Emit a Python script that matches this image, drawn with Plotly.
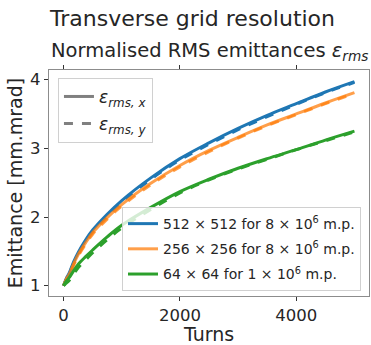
import plotly.graph_objects as go

turns = [0, 50, 100, 175, 250, 375, 500, 750, 1000, 1500, 2000, 2500, 3000, 3500, 4000, 4500, 5000]
blue_x = [1.0, 1.11, 1.19, 1.35, 1.48, 1.66, 1.81, 2.04, 2.24, 2.57, 2.85, 3.08, 3.29, 3.48, 3.65, 3.82, 3.97]
blue_y = [1.0, 1.10, 1.18, 1.33, 1.46, 1.64, 1.79, 2.02, 2.22, 2.55, 2.83, 3.06, 3.27, 3.46, 3.64, 3.81, 3.96]
orange_x = [1.0, 1.10, 1.17, 1.32, 1.45, 1.62, 1.77, 1.99, 2.18, 2.49, 2.75, 2.97, 3.16, 3.34, 3.50, 3.66, 3.81]
orange_y = [1.0, 1.09, 1.16, 1.30, 1.43, 1.60, 1.75, 1.97, 2.16, 2.47, 2.73, 2.95, 3.15, 3.33, 3.49, 3.65, 3.80]
green_x = [1.0, 1.07, 1.12, 1.22, 1.31, 1.42, 1.52, 1.71, 1.88, 2.14, 2.37, 2.55, 2.71, 2.85, 2.98, 3.12, 3.25]
green_y = [1.0, 1.04, 1.08, 1.17, 1.26, 1.37, 1.48, 1.67, 1.84, 2.11, 2.35, 2.54, 2.70, 2.84, 2.98, 3.11, 3.24]

labels = ["512 × 512 for 8 × 10<sup>6</sup> m.p.",
          "256 × 256 for 8 × 10<sup>6</sup> m.p.",
          "64 × 64 for 1 × 10<sup>6</sup> m.p."]
colors = ["#1f77b4", "rgba(255,127,14,0.75)", "#2ca02c"]
series = [(blue_x, blue_y), (orange_x, orange_y), (green_x, green_y)]

FONT = "DejaVu Sans"
TXT = "#262626"
fig = go.Figure()

for i, ((sx, sy), c, lab) in enumerate(zip(series, colors, labels)):
    fig.add_trace(go.Scatter(x=turns, y=sx, mode="lines", line=dict(color=c, width=3, shape="spline"),
                             name=lab, legend="legend2", legendgroup=f"g{i}"))
    fig.add_trace(go.Scatter(x=turns, y=sy, mode="lines", line=dict(color=c, width=3, dash="dash", shape="spline"),
                             showlegend=False))

fig.add_trace(go.Scatter(x=[None], y=[None], mode="lines", line=dict(color="#808080", width=3),
                         name="<i>ε</i><sub><i>rms, x</i></sub>", legend="legend", legendgroup="sx"))
fig.add_trace(go.Scatter(x=[None], y=[None], mode="lines", line=dict(color="#808080", width=3, dash="dash"),
                         name="<i>ε</i><sub><i>rms, y</i></sub>", legend="legend", legendgroup="sy"))

axis_common = dict(showgrid=False, zeroline=False, ticks="outside", ticklen=4, tickwidth=1.2,
                   tickcolor="#333333", linecolor="#8c8c8c", linewidth=1.3,
                   tickfont=dict(family=FONT, size=16.5, color=TXT))

pw = 371 - 49 - 1
ph = 345 - 70 - 47

fig.update_layout(
    width=371, height=345,
    margin=dict(l=49, r=1, t=70, b=47),
    plot_bgcolor="white", paper_bgcolor="white",
    font=dict(family=FONT, color=TXT),
    xaxis=dict(range=[-250, 5250], tickvals=[0, 2000, 4000], mirror="ticks",
               title=dict(text="Turns", font=dict(family=FONT, size=19, color=TXT), standoff=6),
               **axis_common),
    yaxis=dict(range=[0.85, 4.14], tickvals=[1, 2, 3, 4], mirror=True,
               title=dict(text="Emittance [mm.mrad]", font=dict(family=FONT, size=19, color=TXT), standoff=2),
               **axis_common),
    legend=dict(x=0.028, y=0.965, xanchor="left", yanchor="top",
                bgcolor="rgba(255,255,255,0.8)", bordercolor="#d0d0d0", borderwidth=1,
                font=dict(family=FONT, size=17, color=TXT), tracegroupgap=2),
    legend2=dict(x=0.975, y=0.022, xanchor="right", yanchor="bottom",
                 bgcolor="rgba(255,255,255,0.8)", bordercolor="#d0d0d0", borderwidth=1,
                 font=dict(family=FONT, size=14, color=TXT), tracegroupgap=4),
    showlegend=True,
    annotations=[
        dict(text="Transverse grid resolution", x=(192 - 49) / pw, y=(298 - 18) / ph,
             xref="paper", yref="paper", xanchor="center", yanchor="middle",
             showarrow=False, font=dict(family=FONT, size=22, color=TXT)),
        dict(text="Normalised RMS emittances <i>ε</i><sub><i>rms</i></sub>", x=0.5, y=1.0,
             xref="paper", yref="paper", xanchor="center", yanchor="bottom", yshift=4,
             showarrow=False, font=dict(family=FONT, size=19.5, color=TXT)),
    ],
)

fig.write_html("out.html")
